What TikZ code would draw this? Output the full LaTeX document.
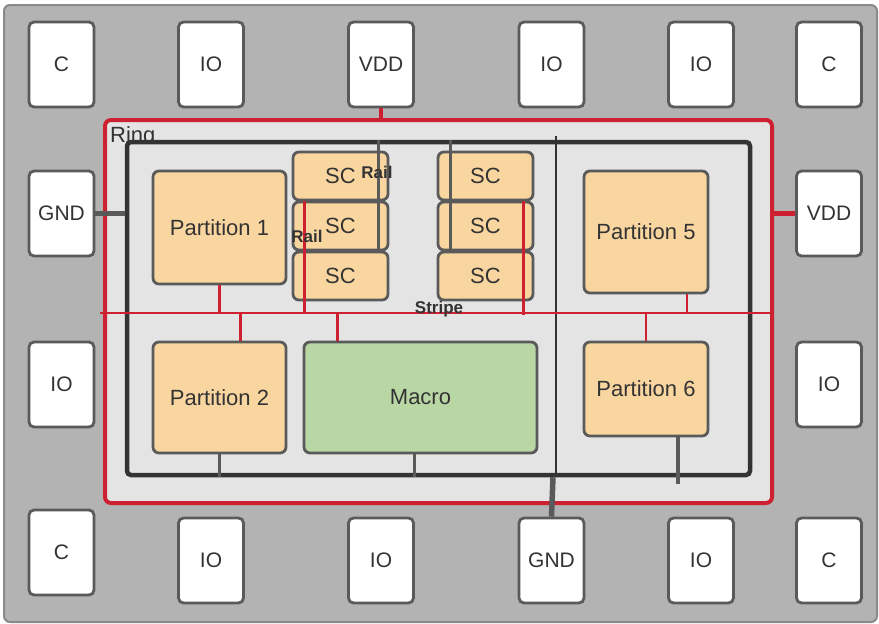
\documentclass[tikz,border=0pt]{standalone}
\usepackage{fontspec}
\setmainfont{Liberation Sans}
\usetikzlibrary{calc}
\definecolor{chipgray}{HTML}{B3B3B3}
\definecolor{chipedge}{HTML}{8A8A8A}
\definecolor{edgegray}{HTML}{5A5A5A}
\definecolor{ringgray}{HTML}{E4E4E4}
\definecolor{corebk}{HTML}{333333}
\definecolor{wirered}{HTML}{CD2030}
\definecolor{peach}{HTML}{F9D6A0}
\definecolor{macrogreen}{HTML}{B9D7A5}
\definecolor{txt}{HTML}{333333}

\begin{document}
\begin{tikzpicture}[x=1pt,y=-1pt,
  pad/.style={draw=edgegray,line width=2.8pt,fill=white,rounded corners=5pt,
    minimum width=65pt,minimum height=85pt,inner sep=0pt,text=txt,
    font=\fontsize{21}{24}\selectfont},
  block/.style={draw=edgegray,line width=2.8pt,fill=peach,rounded corners=6pt,
    inner sep=0pt,text=txt,font=\fontsize{22}{26}\selectfont},
  cell/.style={block,minimum width=95pt,minimum height=48pt},
  lbl/.style={inner sep=0pt,text=txt,font=\bfseries\fontsize{17}{20}\selectfont},
  stripe/.style={draw=wirered,line width=2.8pt},
  tap/.style={draw=edgegray,line width=3.5pt},
  gndwire/.style={draw=edgegray,line width=5.5pt},
  vddwire/.style={draw=wirered,line width=4.5pt}]
  \useasboundingbox (0,0) rectangle (879,624);
  \draw[fill=chipgray,draw=chipedge,line width=2pt,rounded corners=6pt] (4,5) rectangle (877,622);

  % pads
  \node[pad] (c1) at (61.5,64.5) {C};
  \node[pad] (io1) at (211,64.5) {IO};
  \node[pad] (vddt) at (381,64.5) {VDD};
  \node[pad] (io2) at (551.5,64.5) {IO};
  \node[pad] (io3) at (701,64.5) {IO};
  \node[pad] (c2) at (829,64.5) {C};
  \node[pad] (gndl) at (61.5,213.5) {GND};
  \node[pad] (io4) at (61.5,384.5) {IO};
  \node[pad] (c3) at (61.5,552.5) {C};
  \node[pad] (vddr) at (829,213.5) {VDD};
  \node[pad] (io5) at (829,384.5) {IO};
  \node[pad] (io6) at (211,560.5) {IO};
  \node[pad] (io7) at (381,560.5) {IO};
  \node[pad] (gndb) at (551.5,560.5) {GND};
  \node[pad] (io8) at (701,560.5) {IO};
  \node[pad] (c4) at (829,560.5) {C};

  % ring and core
  \node[draw=wirered,line width=4pt,fill=ringgray,rounded corners=6pt,
    minimum width=667pt,minimum height=383pt] (ring) at (438.5,311.5) {};
  \node[anchor=north west,inner sep=0pt,text=txt,font=\fontsize{22}{26}\selectfont]
    (ringlbl) at ($(ring.north west)+(7,8)$) {Ring};
  \node[draw=corebk,line width=4.5pt,fill=ringgray,rounded corners=4pt,
    minimum width=623pt,minimum height=333pt] (core) at (438.5,308.5) {};

  \draw[vddwire] (vddt.south) -- (vddt.south |- ring.north);
  \draw[vddwire] (ring.east |- vddr.west) -- (vddr.west);
  \draw[gndwire] (gndl.east) -- (gndl.east -| core.west);

  \coordinate (divtop) at (556,136);
  \draw[draw=corebk,line width=2pt] (divtop) -- (divtop |- core.south);
  \draw[gndwire] ($(divtop |- core.south)+(-3,0)$) -- (gndb.north);

  \coordinate (stripeL) at (100,313);
  \draw[stripe] (stripeL) -- (stripeL -| ring.east);

  % blocks
  \node[block,minimum width=133pt,minimum height=113pt] (p1) at (219.5,227.5) {Partition 1};
  \node[block,minimum width=133pt,minimum height=111pt] (p2) at (219.5,397.5) {Partition 2};
  \node[block,fill=macrogreen,minimum width=233pt,minimum height=111pt] (macro) at (420.5,397.5) {Macro};
  \node[block,minimum width=124pt,minimum height=122pt] (p5) at (646,232) {Partition 5};
  \node[block,minimum width=124pt,minimum height=94pt] (p6) at (646,389) {Partition 6};

  \node[cell] (scl1) at (340.5,176) {SC};
  \node[cell] (scl2) at (340.5,226) {SC};
  \node[cell] (scl3) at (340.5,276) {SC};
  \node[cell] (scr1) at (485.5,176) {SC};
  \node[cell] (scr2) at (485.5,226) {SC};
  \node[cell] (scr3) at (485.5,276) {SC};

  % rails and stubs
  \draw[tap] ([xshift=-11]scl1.north east |- core.north) -- ([xshift=-11]scl2.south east);
  \draw[tap] ([xshift=14]scr1.north west |- core.north) -- ([xshift=14]scr2.south west);
  \draw[stripe] ([xshift=13]scl2.north west) -- ([xshift=13]scl2.north west |- stripeL);
  \draw[stripe] ([xshift=-11]scr2.north east) -- ($([xshift=-11]scr2.north east |- stripeL)+(0,2)$);

  \draw[stripe] (p1.south) -- (p1.south |- stripeL);
  \draw[stripe] ([xshift=21]p2.north) -- ([xshift=21]p2.north |- stripeL);
  \draw[stripe] ([xshift=35]macro.north west) -- ([xshift=35]macro.north west |- stripeL);
  \draw[stripe] ([xshift=41]p5.south) -- ([xshift=41]p5.south |- stripeL);
  \draw[stripe] (p6.north) -- (p6.north |- stripeL);

  \draw[tap] (p2.south) -- (p2.south |- core.south);
  \draw[tap] ([xshift=-6]macro.south) -- ([xshift=-6]macro.south |- core.south);
  \draw[tap] ([xshift=32]p6.south) -- ($([xshift=32]p6.south |- core.south)+(0,7)$);

  \node[lbl] (railt) at (377,172) {Rail};
  \node[lbl] (raill) at (307,236) {Rail};
  \node[lbl] (stripelbl) at (439,309) {Stripe};
\end{tikzpicture}
\end{document}
